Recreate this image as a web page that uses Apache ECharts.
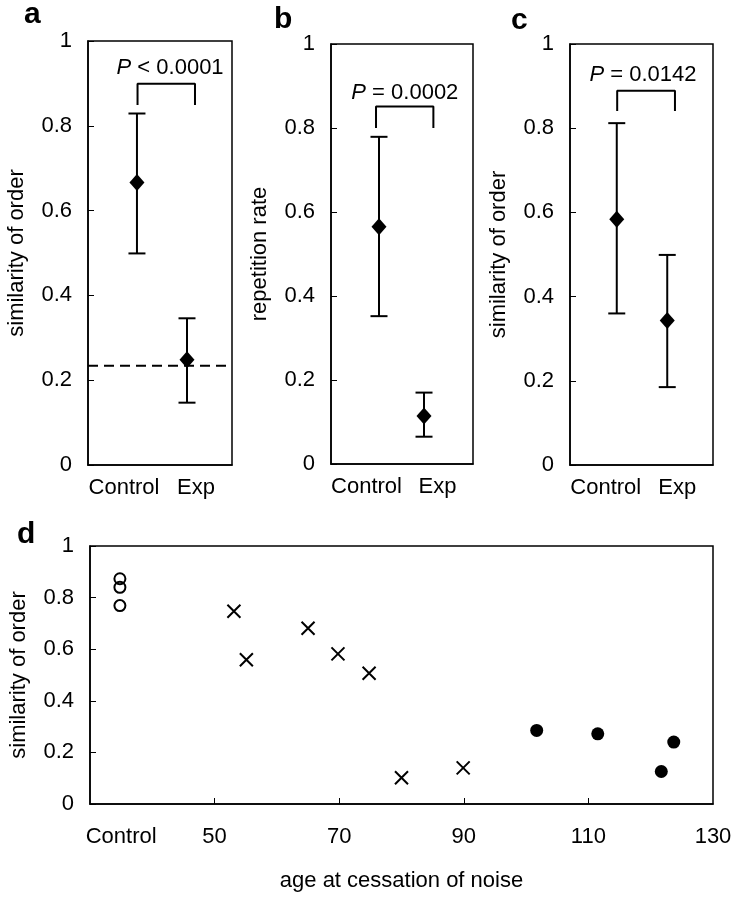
<!DOCTYPE html>
<html>
<head>
<meta charset="utf-8">
<script src="https://cdn.jsdelivr.net/npm/echarts@6/dist/echarts.min.js"></script>
<style>html,body{margin:0;padding:0;background:#fff;}#chart{width:737px;height:900px;}</style>
</head>
<body>
<div id="chart"></div>
<script>
// ---------- data ----------
const panelCats = ['Control', 'Exp'];
const yTickLabels = ['0', '0.2', '0.4', '0.6', '0.8', '1'];

// panel a: similarity of order
const aX = [0.34, 0.6875];
const aMean = [0.666, 0.248];
const aLow = [0.499, 0.147];
const aHigh = [0.829, 0.346];
const aChance = 0.234;
const aBracketX = [0.344, 0.743];
const aBracketY = [0.849, 0.899];
const aPText = '< 0.0001';
const aPPos = [0.57, 0.937];

// panel b: repetition rate
const bX = [0.338, 0.655];
const bMean = [0.565, 0.114];
const bLow = [0.352, 0.065];
const bHigh = [0.779, 0.170];
const bBracketX = [0.317, 0.721];
const bBracketY = [0.80, 0.851];
const bPText = '= 0.0002';
const bPPos = [0.52, 0.884];

// panel c: similarity of order
const cX = [0.327, 0.68];
const cMean = [0.584, 0.343];
const cLow = [0.360, 0.185];
const cHigh = [0.812, 0.499];
const cBracketX = [0.33, 0.734];
const cBracketY = [0.841, 0.889];
const cPText = '= 0.0142';
const cPPos = [0.51, 0.926];

// panel d: similarity of order vs age at cessation of noise
const dControlX = [34.8, 34.8, 34.8];
const dControlY = [0.873, 0.840, 0.769];
const dCrossX = [53.1, 55.1, 65.0, 69.8, 74.8, 80.0, 89.9];
const dCrossY = [0.747, 0.559, 0.681, 0.582, 0.507, 0.102, 0.140];
const dFilledX = [101.7, 111.5, 121.7, 123.7];
const dFilledY = [0.285, 0.272, 0.126, 0.240];
const dXLabelValues = [35, 50, 70, 90, 110, 130];
const dXTickValues = [50, 70, 90, 110];

// ---------- chart ----------
const FONT = '"Liberation Sans", Arial, Helvetica, sans-serif';
const chart = echarts.init(document.getElementById('chart'), null, {renderer: 'canvas'});

const zip = (xs, ys) => xs.map((x, i) => [x, ys[i]]);
const errData = (xs, lo, hi) => xs.map((x, i) => [x, lo[i], hi[i]]);

function renderErr(params, api) {
  const x = api.value(0), lo = api.value(1), hi = api.value(2);
  const p1 = api.coord([x, lo]), p2 = api.coord([x, hi]);
  const hw = 8.5;
  const st = {stroke: '#000', lineWidth: 2};
  return {type: 'group', children: [
    {type: 'line', shape: {x1: p1[0], y1: p1[1], x2: p2[0], y2: p2[1]}, style: st},
    {type: 'line', shape: {x1: p1[0] - hw, y1: p1[1], x2: p1[0] + hw, y2: p1[1]}, style: st},
    {type: 'line', shape: {x1: p2[0] - hw, y1: p2[1], x2: p2[0] + hw, y2: p2[1]}, style: st}
  ]};
}

const grids = [
  {left: 88, width: 144, top: 41, height: 424},
  {left: 331, width: 142, top: 44, height: 420},
  {left: 570, width: 143, top: 44, height: 421},
  {left: 87, right: 24, top: 546, bottom: 96}
].map(g => Object.assign({show: true, borderColor: '#000', borderWidth: 1.5, backgroundColor: 'transparent', containLabel: false}, g));

const xAxes = [], yAxes = [], series = [];
const yNames = ['similarity of order', 'repetition rate', 'similarity of order', 'similarity of order'];

function yAxisFor(i) {
  return {
    type: 'value', gridIndex: i, min: 0, max: 1, interval: 0.2,
    name: yNames[i], nameLocation: 'middle', nameGap: 60, nameRotate: 90,
    nameTextStyle: {fontFamily: FONT, fontSize: 22, color: '#000'},
    axisLine: {show: true, lineStyle: {color: '#000', width: 1.5}},
    axisTick: {show: true, inside: true, length: 6, lineStyle: {color: '#000', width: 1}},
    axisLabel: {fontFamily: FONT, fontSize: 22, color: '#000', margin: 16,
      formatter: v => yTickLabels[Math.round(v / 0.2)]},
    splitLine: {show: false}
  };
}

const panels = [
  {x: aX, mean: aMean, lo: aLow, hi: aHigh, bx: aBracketX, by: aBracketY, pt: aPText, pp: aPPos},
  {x: bX, mean: bMean, lo: bLow, hi: bHigh, bx: bBracketX, by: bBracketY, pt: bPText, pp: bPPos},
  {x: cX, mean: cMean, lo: cLow, hi: cHigh, bx: cBracketX, by: cBracketY, pt: cPText, pp: cPPos}
];

panels.forEach((p, i) => {
  // visible category axis (labels)
  xAxes.push({
    type: 'category', gridIndex: i, data: panelCats, boundaryGap: true,
    axisLine: {show: true, lineStyle: {color: '#000', width: 1.5}},
    axisTick: {show: false},
    axisLabel: {fontFamily: FONT, fontSize: 22, color: '#000', margin: 12, interval: 0, hideOverlap: false},
    splitLine: {show: false}
  });
  // hidden value axis for marks
  xAxes.push({type: 'value', gridIndex: i, min: 0, max: 1, show: false, splitLine: {show: false}});
  yAxes.push(yAxisFor(i));
  const xi = 2 * i + 1;
  series.push({
    type: 'custom', xAxisIndex: xi, yAxisIndex: i, renderItem: renderErr,
    encode: {x: 0, y: [1, 2]}, data: errData(p.x, p.lo, p.hi), z: 3, silent: true
  });
  series.push({
    type: 'scatter', xAxisIndex: xi, yAxisIndex: i, symbol: 'diamond', symbolSize: [15, 17],
    itemStyle: {color: '#000', opacity: 1}, data: zip(p.x, p.mean), z: 4, silent: true
  });
  series.push({
    type: 'line', xAxisIndex: xi, yAxisIndex: i, symbol: 'none', silent: true,
    lineStyle: {color: '#000', width: 2},
    data: [[p.bx[0], p.by[0]], [p.bx[0], p.by[1]], [p.bx[1], p.by[1]], [p.bx[1], p.by[0]]]
  });
  series.push({
    type: 'scatter', xAxisIndex: xi, yAxisIndex: i, symbolSize: 0, silent: true,
    itemStyle: {opacity: 1},
    data: [p.pp],
    label: {show: true, position: 'inside', formatter: '{i|P} ' + p.pt,
      fontFamily: FONT, fontSize: 22, color: '#000', opacity: 1,
      rich: {i: {fontFamily: FONT, fontSize: 22, fontStyle: 'italic', color: '#000'}}}
  });
});

// chance line in panel a
series.push({
  type: 'line', xAxisIndex: 1, yAxisIndex: 0, symbol: 'none', silent: true,
  lineStyle: {color: '#000', width: 2, type: [10, 6]},
  data: [[0, aChance], [0.965, aChance]]
});

// panel d
xAxes.push({
  type: 'value', gridIndex: 3, min: 30, max: 130,
  name: 'age at cessation of noise', nameLocation: 'middle', nameGap: 66,
  nameTextStyle: {fontFamily: FONT, fontSize: 22, color: '#000'},
  axisLine: {show: true, lineStyle: {color: '#000', width: 1.5}},
  axisTick: {show: true, inside: true, length: 6, customValues: dXTickValues, lineStyle: {color: '#000', width: 1}},
  axisLabel: {fontFamily: FONT, fontSize: 22, color: '#000', margin: 22, customValues: dXLabelValues,
    formatter: v => (v === 35 ? 'Control' : String(v))},
  splitLine: {show: false}
});
yAxes.push(yAxisFor(3));
series.push({
  type: 'scatter', xAxisIndex: 6, yAxisIndex: 3, symbol: 'circle', symbolSize: 11, silent: true,
  itemStyle: {color: 'transparent', borderColor: '#000', borderWidth: 2, opacity: 1},
  data: zip(dControlX, dControlY)
});
series.push({
  type: 'scatter', xAxisIndex: 6, yAxisIndex: 3, symbol: 'path://M0,0L10,10M10,0L0,10', symbolSize: 13, silent: true,
  itemStyle: {color: 'transparent', borderColor: '#000', borderWidth: 2, opacity: 1},
  data: zip(dCrossX, dCrossY)
});
series.push({
  type: 'scatter', xAxisIndex: 6, yAxisIndex: 3, symbol: 'circle', symbolSize: 13, silent: true,
  itemStyle: {color: '#000', opacity: 1},
  data: zip(dFilledX, dFilledY)
});

const letterStyle = {fontFamily: FONT, fontSize: 30, fontWeight: 'bold', color: '#000'};
const titles = [
  {text: 'a', left: 24, top: 0},
  {text: 'b', left: 274, top: 5},
  {text: 'c', left: 511, top: 6},
  {text: 'd', left: 17, top: 520}
].map(t => Object.assign({textStyle: letterStyle, padding: 0}, t));

chart.setOption({
  animation: false,
  backgroundColor: '#fff',
  title: titles,
  grid: grids,
  xAxis: xAxes,
  yAxis: yAxes,
  series: series
});
</script>
</body>
</html>
